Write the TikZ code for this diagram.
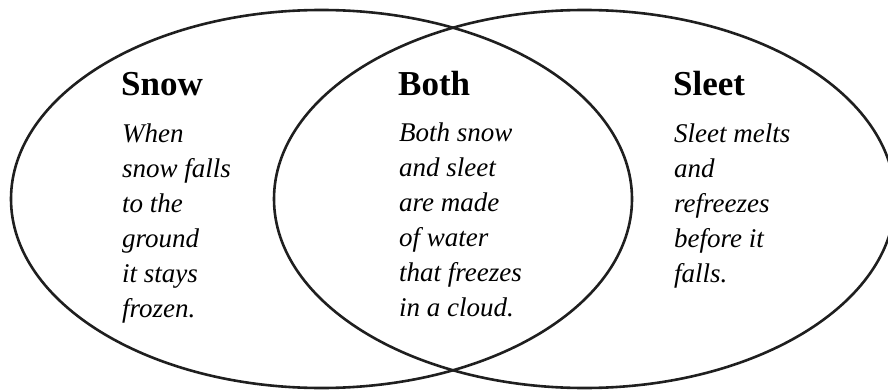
\documentclass[tikz,border=0pt]{standalone}
\usepackage{fontspec}
\setmainfont{Liberation Serif}

\tikzset{
	venn/.style={line width=2.6pt, draw=black!88},
	heading/.style={anchor=base west, inner sep=0pt, font={\bfseries\fontsize{35}{40}\selectfont}},
	words/.style={anchor=base west, inner sep=0pt, align=left, font={\itshape\fontsize{27}{35}\selectfont}}
}

\begin{document}
\begin{tikzpicture}[x=1pt,y=1pt]
    \useasboundingbox (0,0) rectangle (888,389);
    \clip (0,0) rectangle (888,389);
    \draw[venn] (321.5,190) ellipse [x radius=310.5, y radius=189];
    \draw[venn] (584.5,190) ellipse [x radius=310.5, y radius=189];
	\node[heading] (snowhead) at (121,293) {Snow};
	\node[heading] (bothhead) at (398,293) {Both};
	\node[heading] (sleethead) at (673,293) {Sleet};
	% base anchor sits on the last line
	\node[words] (snowtext) at (122,72) {When\\snow falls\\to the\\ground\\it stays\\frozen.};
	\node[words] (bothtext) at (399,73) {Both snow\\and sleet\\are made\\of water\\that freezes\\in a cloud.};
	\node[words] (sleettext) at (674,107) {Sleet melts\\and\\refreezes\\before it\\falls.};
\end{tikzpicture}
\end{document}
